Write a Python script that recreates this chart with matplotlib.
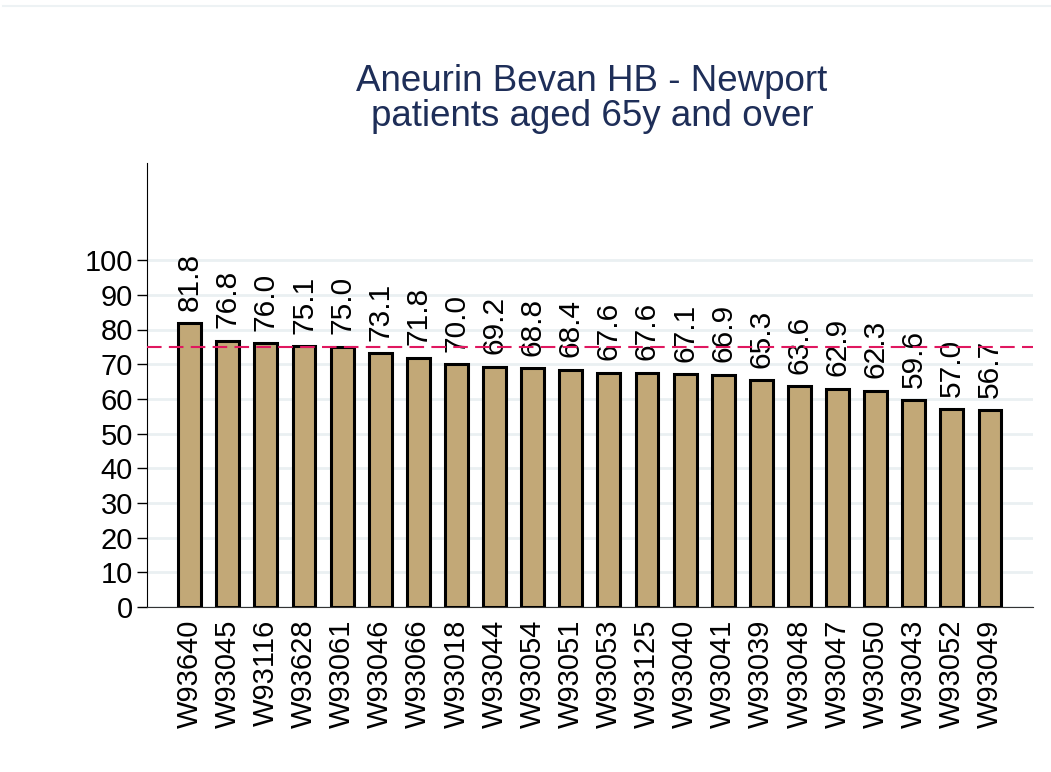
import matplotlib
matplotlib.use("Agg")
import matplotlib.pyplot as plt
from matplotlib.lines import Line2D

# practice codes and percentages
practices = ["W93640", "W93045", "W93116", "W93628", "W93061", "W93046", "W93066",
             "W93018", "W93044", "W93054", "W93051", "W93053", "W93125", "W93040",
             "W93041", "W93039", "W93048", "W93047", "W93050", "W93043", "W93052",
             "W93049"]
values = [81.8, 76.8, 76.0, 75.1, 75.0, 73.1, 71.8, 70.0, 69.2, 68.8, 68.4, 67.6,
          67.6, 67.1, 66.9, 65.3, 63.6, 62.9, 62.3, 59.6, 57.0, 56.7]
target = 75
yticks = list(range(0, 101, 10))

plt.rcParams["font.family"] = ["Liberation Sans", "DejaVu Sans"]

fig = plt.figure(figsize=(10.51, 7.72), dpi=100)
ax = fig.add_axes([147 / 1051, 1 - 607 / 772, 886 / 1051, 444 / 772])

x = list(range(len(values)))
ax.bar(x, values, width=0.6, color="#c2a877", edgecolor="black", linewidth=2.2, zorder=3)

for xi, v in zip(x, values):
    ax.annotate(f"{v:.1f}", (xi, v), xytext=(0, 9), textcoords="offset points",
                rotation=90, ha="center", va="bottom", fontsize=21.5, zorder=4)

ax.axhline(target, color="#e0175f", linestyle=(0, (7, 3.5)), linewidth=1.5, zorder=5)

ax.set_xlim(-1.12, 22.13)
ax.set_ylim(0, 128)
ax.set_yticks(yticks)
ax.set_yticklabels([str(t) for t in yticks], fontsize=21)
ax.set_xticks(x)
ax.set_xticklabels(practices, rotation=90, fontsize=21)
ax.tick_params(axis="x", length=0, pad=9)
ax.tick_params(axis="y", length=7, width=1, pad=3)
ax.yaxis.grid(True, color="#eaf0f2", linewidth=2, zorder=0)
ax.set_axisbelow(True)

for s in ["top", "right"]:
    ax.spines[s].set_visible(False)
ax.spines["left"].set_color("black")
ax.spines["bottom"].set_color("#333333")

fig.text(592 / 1051, 1 - 99 / 772, "Aneurin Bevan HB - Newport\npatients aged 65y and over",
         ha="center", va="center", fontsize=26.5, color="#1e2e58", linespacing=1.0)

fig.add_artist(Line2D([3 / 1051, 1], [1 - 6 / 772, 1 - 6 / 772],
                      transform=fig.transFigure, color="#edf2f4", linewidth=1.5))

fig.savefig("out.png", dpi=100)
